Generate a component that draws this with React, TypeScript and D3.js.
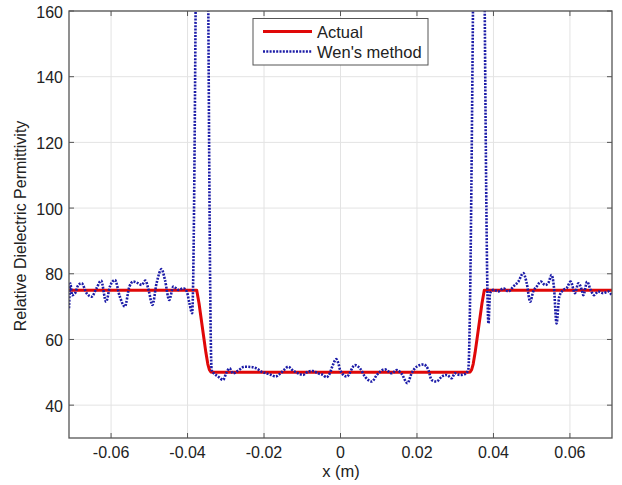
import React from "react";
import * as d3 from "d3";

// Actual permittivity profile (x in metres)
const actualX = [-0.071, -0.0376, -0.037, -0.0364, -0.0358, -0.0352, -0.0347, -0.0343, -0.0339, -0.0334,
  0.0334, 0.0339, 0.0343, 0.0347, 0.0352, 0.0358, 0.0364, 0.037, 0.0376, 0.071];
const actualY = [75, 75, 71, 66, 61, 56, 52.5, 50.8, 50.1, 50,
  50, 50.1, 50.8, 52.5, 56, 61, 66, 71, 75, 75];

// Reconstruction by Wen's method
const wenX = [
  -0.071, -0.07065, -0.0702, -0.0694, -0.0686, -0.0677, -0.0664, -0.0651, -0.0638, -0.0626,
  -0.0613, -0.0603, -0.059, -0.0577, -0.0564, -0.0552, -0.0542, -0.0529, -0.052, -0.051,
  -0.0501, -0.0492, -0.0481, -0.0468, -0.0459, -0.0448, -0.0437, -0.0424, -0.0411, -0.0402,
  -0.0395, -0.0388, -0.0361, -0.0337, -0.032, -0.0307, -0.0299, -0.029, -0.0281, -0.0268,
  -0.0251, -0.0233, -0.022, -0.0207, -0.0194, -0.0181, -0.017, -0.0159, -0.0146, -0.0137,
  -0.0124, -0.0111, -0.0098, -0.0085, -0.0072, -0.0059, -0.0046, -0.0037, -0.0028, -0.002,
  -0.0011, -0.0005, -0.0001, 0.0016, 0.0038, 0.0051, 0.0064, 0.0082, 0.0095, 0.0116,
  0.0134, 0.0147, 0.016, 0.0175, 0.0186, 0.0199, 0.0217, 0.023, 0.0238, 0.0251,
  0.0265, 0.0278, 0.0291, 0.0299, 0.0312, 0.0326, 0.0334, 0.0363, 0.0387, 0.0391,
  0.04, 0.0413, 0.0426, 0.0439, 0.0452, 0.0465, 0.0478, 0.0487, 0.0496, 0.0504,
  0.0513, 0.0524, 0.0535, 0.0543, 0.0552, 0.0558, 0.0565, 0.0572, 0.0583, 0.0591,
  0.0602, 0.0613, 0.0622, 0.0631, 0.0635, 0.0645, 0.0654, 0.0663, 0.0674, 0.0687,
  0.07, 0.0709,
];
const wenY = [
  69.5, 77, 73.5, 74.1, 76.5, 77.1, 74.1, 73.0, 75.6, 77.9,
  71.5, 76.1, 78.1, 73.0, 70.0, 76.1, 77.6, 77.1, 76.6, 77.9,
  74.6, 70.5, 77.1, 81.4, 78.1, 72.0, 76.1, 75.1, 75.6, 74.6,
  71.0, 68.0, 420, 50.7, 48.7, 47.7, 49.7, 51.2, 49.7, 50.5,
  51.7, 51.6, 51.2, 50.2, 49.7, 49.2, 48.7, 49.5, 50.9, 51.7,
  50.5, 49.7, 49.2, 50.2, 50.4, 49.7, 49.2, 48.5, 49.7, 52.2,
  54.0, 52.5, 50.7, 48.7, 52.2, 51.2, 48.7, 47.2, 49.2, 50.9,
  49.7, 50.7, 49.5, 46.7, 49.7, 51.7, 52.4, 50.7, 47.7, 47.2,
  48.7, 49.2, 48.2, 49.7, 49.2, 49.5, 50.7, 327, 64.9, 74.1,
  75.1, 74.6, 75.6, 74.6, 76.1, 77.6, 80.2, 77.1, 71.5, 74.6,
  76.1, 77.6, 76.6, 77.1, 79.6, 76.1, 64.9, 73.0, 75.1, 75.6,
  77.6, 74.1, 77.1, 75.1, 73.5, 77.6, 75.1, 73.5, 74.6, 74.1,
  74.6, 73.5,
];

const xTicks = [-0.06, -0.04, -0.02, 0, 0.02, 0.04, 0.06];
const yTicks = [40, 60, 80, 100, 120, 140, 160];

const W = 622;
const H = 485;
const left = 69;
const right = 612;
const top = 11;
const bottom = 438;
const FONT = "'Liberation Sans', Arial, Helvetica, sans-serif";
const RED = "#e00808";
const BLUE = "#1c1ca8";

export default function App() {
  const x = d3.scaleLinear().domain([-0.071, 0.071]).range([left, right]);
  const y = d3.scaleLinear().domain([30, 160]).range([bottom, top]);

  const line = d3
    .line<[number, number]>()
    .x((d) => x(d[0]))
    .y((d) => y(d[1]));
  const smoothLine = d3
    .line<[number, number]>()
    .x((d) => x(d[0]))
    .y((d) => y(d[1]))
    .curve(d3.curveMonotoneX);

  const actual = actualX.map((v, i) => [v, actualY[i]] as [number, number]);
  const wen = wenX.map((v, i) => [v, wenY[i]] as [number, number]);

  const fmt = (v: number) => (v === 0 ? "0" : String(v));
  const axisColor = "#555";
  const gridColor = "#e3e3e3";
  const tickLen = 5;

  return (
    <svg
      width={W}
      height={H}
      style={{ position: "absolute", left: 0, top: 0, background: "#fff" }}
      fontFamily={FONT}
    >
      <defs>
        <clipPath id="plotClip">
          <rect x={left} y={top} width={right - left} height={bottom - top} />
        </clipPath>
      </defs>
      <rect x={left} y={top} width={right - left} height={bottom - top} fill="#fff" />

      {/* grid */}
      {xTicks.map((t) => (
        <line key={"gx" + t} x1={x(t)} x2={x(t)} y1={top} y2={bottom} stroke={gridColor} strokeWidth={1} />
      ))}
      {yTicks.map((t) => (
        <line key={"gy" + t} x1={left} x2={right} y1={y(t)} y2={y(t)} stroke={gridColor} strokeWidth={1} />
      ))}

      {/* data */}
      <g clipPath="url(#plotClip)">
        <path d={line(actual) ?? ""} fill="none" stroke={RED} strokeWidth={3} strokeLinejoin="round" />
        <path d={smoothLine(wen) ?? ""} fill="none" stroke={BLUE} strokeWidth={2.6} strokeDasharray="2 1.3" />
      </g>

      {/* frame */}
      <rect x={left} y={top} width={right - left} height={bottom - top} fill="none" stroke={axisColor} strokeWidth={1.3} />

      {/* ticks */}
      {xTicks.map((t) => (
        <g key={"tx" + t}>
          <line x1={x(t)} x2={x(t)} y1={bottom} y2={bottom - tickLen} stroke={axisColor} />
          <line x1={x(t)} x2={x(t)} y1={top} y2={top + tickLen} stroke={axisColor} />
          <text x={x(t)} y={458} textAnchor="middle" fontSize={16} fill="#222">
            {fmt(t)}
          </text>
        </g>
      ))}
      {yTicks.map((t) => (
        <g key={"ty" + t}>
          <line x1={left} x2={left + tickLen} y1={y(t)} y2={y(t)} stroke={axisColor} />
          <line x1={right} x2={right - tickLen} y1={y(t)} y2={y(t)} stroke={axisColor} />
          <text x={63} y={y(t) + 6.5} textAnchor="end" fontSize={16} fill="#222">
            {t}
          </text>
        </g>
      ))}

      {/* axis titles */}
      <text x={341} y={477} textAnchor="middle" fontSize={16.5} fill="#222">
        x (m)
      </text>
      <text transform="translate(26, 226) rotate(-90)" textAnchor="middle" fontSize={16} fill="#222">
        Relative Dielectric Permittivity
      </text>

      {/* legend */}
      <g>
        <rect x={253} y={18.5} width={175} height={46.5} fill="#fff" stroke={axisColor} strokeWidth={1} />
        <line x1={263} x2={312} y1={31.5} y2={31.5} stroke={RED} strokeWidth={3} />
        <text x={317} y={37.5} fontSize={16.5} fill="#222">
          Actual
        </text>
        <line x1={263} x2={312} y1={51.5} y2={51.5} stroke={BLUE} strokeWidth={2.6} strokeDasharray="2 1.3" />
        <text x={317} y={57.5} fontSize={16.5} fill="#222">
          Wen's method
        </text>
      </g>
    </svg>
  );
}
